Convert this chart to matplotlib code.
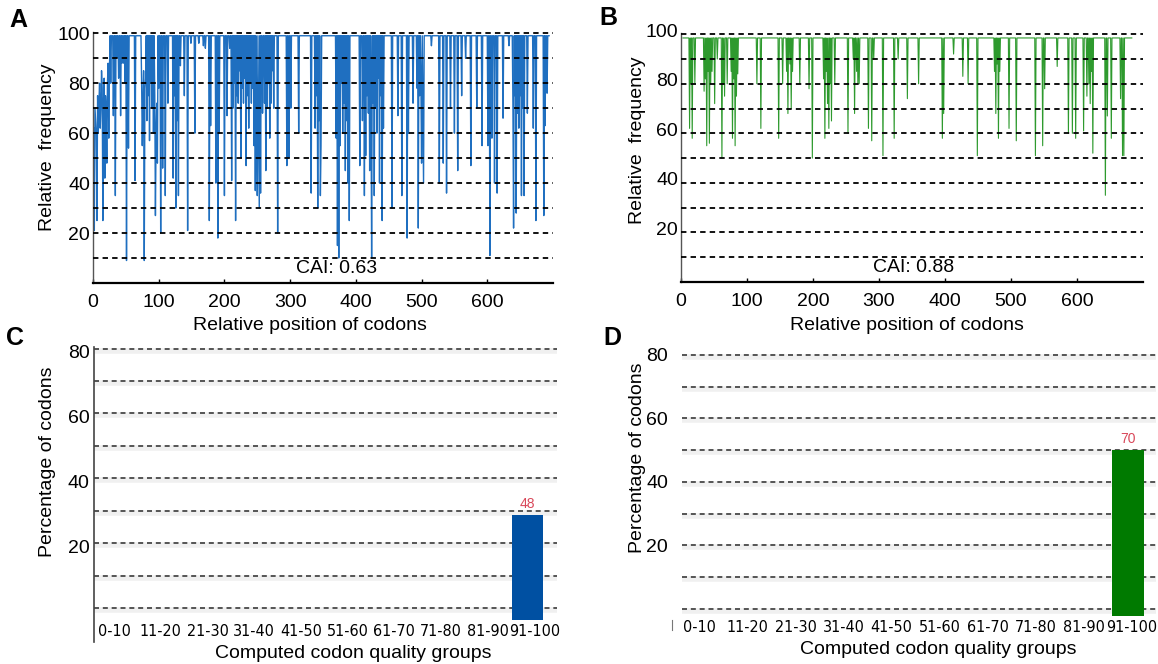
import numpy as np
import matplotlib.pyplot as plt
from matplotlib import font_manager
from matplotlib.transforms import ScaledTranslation

plt.rcParams['font.family'] = ['Liberation Sans', 'DejaVu Sans']

# the group labels use a narrow face in the original; pick what is installed
_names = {f.name for f in font_manager.fontManager.ttflist}
_condensed = [f for f in font_manager.fontManager.ttflist
              if f.name == 'DejaVu Sans' and 'Condensed' in f.fname and 'Bold' not in f.fname
              and 'Oblique' not in f.fname]
if 'Liberation Sans Narrow' in _names:
    GROUP_FONT = dict(family='Liberation Sans Narrow', size=13.5)
elif _condensed:
    GROUP_FONT = dict(family='DejaVu Sans', stretch='condensed', size=11.5)
else:
    GROUP_FONT = dict(family='Liberation Sans', size=9.5)

# ---- data ----
# panel A: relative frequency per codon, flat at 99 except the dips below
a_n_codons = 694
a_baseline = 99.0
a_dip_pos = [1, 2, 3, 4, 5, 6, 7, 8, 9, 10, 11, 12, 13, 14, 15, 16, 17, 18, 19, 20,
             21, 22, 23, 24, 25, 27, 31, 34, 36, 39, 42, 44, 47, 49, 51, 54, 64, 74, 75, 76,
             77, 78, 79, 80, 82, 84, 86, 88, 90, 92, 94, 95, 96, 97, 98, 100, 103, 106, 110, 114,
             122, 124, 126, 128, 130, 133, 139, 144, 149, 155, 161, 168, 171, 177, 179, 187, 190, 192, 200, 204,
             208, 211, 213, 215, 217, 219, 221, 223, 225, 227, 229, 231, 233, 235, 237, 239, 241, 243, 245, 247,
             249, 250, 252, 253, 255, 258, 261, 263, 265, 267, 269, 271, 273, 275, 281, 295, 298, 301, 313, 332,
             338, 340, 342, 344, 346, 347, 370, 372, 374, 376, 378, 380, 382, 384, 386, 388, 390, 406, 410, 413,
             415, 417, 419, 421, 423, 424, 426, 428, 430, 432, 434, 436, 438, 440, 442, 455, 464, 470, 478, 480,
             487, 493, 495, 497, 499, 500, 502, 503, 515, 527, 533, 538, 544, 550, 555, 561, 567, 575, 584, 592,
             601, 604, 607, 611, 615, 624, 633, 639, 640, 642, 644, 646, 648, 650, 652, 654, 656, 661, 670, 674,
             686, 688, 691]
a_dip_val = [62, 21, 70, 65, 60, 25, 75, 60, 72, 80, 62, 70, 85, 78, 25, 72, 82, 42, 75, 70,
             48, 80, 88, 58, 85, 80, 67, 35, 90, 82, 67, 88, 88, 80, 9, 54, 41, 80, 55, 72,
             85, 9, 78, 82, 65, 75, 57, 80, 70, 60, 75, 27, 60, 72, 48, 78, 20, 46, 35, 72,
             42, 75, 30, 65, 35, 87, 75, 21, 96, 60, 96, 95, 94, 25, 63, 40, 18, 60, 35, 67,
             94, 41, 70, 80, 25, 75, 72, 85, 50, 78, 72, 82, 47, 75, 62, 80, 72, 78, 55, 37,
             70, 35, 66, 30, 36, 68, 72, 45, 70, 80, 58, 72, 85, 70, 20, 47, 50, 70, 60, 36,
             62, 75, 30, 65, 35, 55, 58, 15, 10, 55, 80, 60, 72, 45, 65, 40, 25, 47, 65, 35,
             51, 75, 68, 45, 80, 10, 72, 35, 70, 60, 82, 40, 75, 25, 62, 30, 67, 35, 18, 60,
             72, 78, 22, 75, 80, 48, 70, 40, 95, 40, 48, 36, 70, 60, 45, 75, 90, 47, 70, 55,
             55, 11, 58, 40, 36, 66, 95, 72, 22, 75, 28, 68, 62, 75, 35, 70, 35, 68, 62, 25,
             27, 63, 76]

# panel B: optimised sequence
b_n_codons = 683
b_first_codon = 3
b_baseline = 98.5
b_dip_pos = [13, 15, 17, 21, 35, 37, 39, 41, 43, 45, 47, 51, 55, 62, 64, 66, 70, 76, 78, 80,
             82, 84, 86, 115, 121, 148, 154, 160, 162, 165, 167, 169, 180, 194, 199, 216, 218, 220, 222, 224,
             226, 228, 233, 253, 261, 263, 266, 268, 270, 284, 289, 292, 306, 323, 329, 343, 360, 396, 398, 413,
             427, 435, 449, 475, 477, 479, 481, 483, 497, 508, 537, 548, 551, 570, 587, 593, 598, 610, 615, 618,
             620, 622, 624, 643, 646, 652, 666, 669, 671]
b_dip_val = [62, 80, 58, 80, 77, 82, 55, 85, 56, 80, 85, 72, 90, 50, 80, 75, 80, 85, 58, 82,
             55, 75, 84, 80, 62, 58, 80, 85, 68, 88, 70, 85, 80, 78, 50, 82, 58, 85, 72, 62,
             80, 65, 80, 60, 90, 68, 85, 80, 80, 62, 57, 90, 51, 58, 90, 74, 80, 58, 68, 92,
             83, 80, 51, 85, 68, 88, 58, 85, 62, 57, 51, 55, 78, 87, 60, 60, 58, 61, 75, 80,
             72, 85, 52, 35, 67, 58, 74, 51, 51]

a_cai = 'CAI: 0.63'
b_cai = 'CAI: 0.88'

groups = ['0-10', '11-20', '21-30', '31-40', '41-50', '51-60', '61-70', '71-80', '81-90', '91-100']
c_pct = [0, 0, 0, 0, 0, 0, 0, 0, 0, 28.7]
c_labels = ['', '', '', '', '', '', '', '', '', '48']
d_pct = [0, 0, 0, 0, 0, 0, 0, 0, 0, 50.0]
d_labels = ['', '', '', '', '', '', '', '', '', '70']

W, H = 1158, 664
fig = plt.figure(figsize=(W / 100, H / 100), dpi=100)


def px_axes(left, top, right, bottom):
    return fig.add_axes([left / W, 1 - bottom / H, (right - left) / W, (bottom - top) / H])


def fig_text(x, y, s, **kw):
    fig.text(x / W, 1 - y / H, s, **kw)


def shift(dx, dy):
    # offset in pixels (figure is 100 dpi)
    return ScaledTranslation(dx / 100, dy / 100, fig.dpi_scale_trans)


def build_series(first, last, base, dip_pos, dip_val):
    pos = np.arange(first, last + 1)
    freq = np.full(len(pos), base)
    freq[np.array(dip_pos) - first] = dip_val
    return pos, freq


def codon_panel(ax, pos, freq, color, lw, cai, cai_x, ylab_shift):
    ax.plot(pos, freq, color=color, lw=lw, zorder=2)
    for g in range(10, 101, 10):
        ax.axhline(g, color='black', lw=1.3, ls=(0, (3, 2.3)), zorder=3)
    ax.set_xlim(0, 700)
    ax.set_ylim(0, 100.5)
    ax.spines[['top', 'right']].set_visible(False)
    ax.spines['left'].set_color('#555555')
    ax.spines['left'].set_linewidth(1.0)
    ax.spines['bottom'].set_linewidth(1.6)
    ax.set_xticks(range(0, 601, 100))
    ax.set_yticks([20, 40, 60, 80, 100])
    ax.tick_params(axis='x', direction='in', length=3, width=1, labelsize=14, pad=8)
    ax.tick_params(axis='y', length=0, labelsize=14, pad=2)
    for lbl in ax.get_yticklabels():
        lbl.set_transform(lbl.get_transform() + shift(0, ylab_shift))
    ax.text(cai_x, 6, cai, ha='center', va='center', fontsize=14)


def quality_panel(ax, pct, labels, color, floor, top, xmin, xmax, lab_shift, grid_shift):
    x = np.arange(len(groups))
    pct = np.array(pct)
    keep = pct > 0
    ax.bar(x[keep], pct[keep] - floor, bottom=floor, width=0.67, color=color, zorder=3)
    for xi, h, s in zip(x, pct, labels):
        if s:
            ax.text(xi, h + 1.2, s, ha='center', va='bottom', fontsize=10,
                    color='#d9485a', zorder=4)
    for g in range(0, 81, 10):
        ax.axhline(g - 0.6, color='#f0f0f0', lw=4, zorder=1)
        ax.axhline(g, color='#3a3a3a', lw=1.2, ls=(0, (3, 2.3)), zorder=2)
    ax.set_xlim(xmin, xmax)
    ax.set_ylim(floor, top)
    ax.set_xticks(x, groups)
    ax.set_yticks([20, 40, 60, 80])
    ax.tick_params(axis='x', length=0, pad=3)
    ax.tick_params(axis='y', length=0, labelsize=14, pad=3)
    for lbl in ax.get_xticklabels():
        lbl.set_fontfamily(GROUP_FONT['family'])
        lbl.set_fontsize(GROUP_FONT['size'])
        if 'stretch' in GROUP_FONT:
            lbl.set_fontstretch(GROUP_FONT['stretch'])
        lbl.set_transform(lbl.get_transform() + shift(lab_shift, 0))
    for lbl in ax.get_yticklabels():
        lbl.set_transform(lbl.get_transform() + shift(0, grid_shift))
    ax.spines[['top', 'right', 'bottom']].set_visible(False)


# A
ax_a = px_axes(93, 32, 553, 283)
a_pos, a_freq = build_series(1, a_n_codons, a_baseline, a_dip_pos, a_dip_val)
codon_panel(ax_a, a_pos, a_freq, '#1f6fc0', 1.0, a_cai, 370, 0)

# B
ax_b = px_axes(681, 33, 1143, 282)
b_pos, b_freq = build_series(b_first_codon, b_n_codons, b_baseline, b_dip_pos, b_dip_val)
codon_panel(ax_b, b_pos, b_freq, '#2e9a2e', 0.8, b_cai, 352, 4)

# C
ax_c = px_axes(94, 347, 557, 620)
quality_panel(ax_c, c_pct, c_labels, '#0050a2', -3.7, 80.5, -0.28, 9.63, 7, -3)
ax_c.spines['left'].set_color('#444444')
ax_c.spines['left'].set_linewidth(1.2)
ax_c.spines['left'].set_bounds(-10.5, 80.5)

# D
ax_d = px_axes(682, 354, 1156, 616)
quality_panel(ax_d, d_pct, d_labels, '#007a00', -2.2, 80.3, -0.28, 9.59, 4, 3)
ax_d.spines['left'].set_position(('outward', 7))
ax_d.spines['left'].set_color('#777777')
ax_d.spines['left'].set_bounds(-6.5, -3.5)

# axis titles
fig_text(310, 325, 'Relative position of codons', ha='center', va='center', fontsize=14)
fig_text(907, 325, 'Relative position of codons', ha='center', va='center', fontsize=14)
fig_text(353, 653, 'Computed codon quality groups', ha='center', va='center', fontsize=14)
fig_text(938, 650, 'Computed codon quality groups', ha='center', va='center', fontsize=14)
fig_text(48, 147, 'Relative  frequency', ha='center', va='center', rotation=90, fontsize=14)
fig_text(638, 140, 'Relative  frequency', ha='center', va='center', rotation=90, fontsize=14)
fig_text(48, 462, 'Percentage of codons', ha='center', va='center', rotation=90, fontsize=14)
fig_text(638, 458, 'Percentage of codons', ha='center', va='center', rotation=90, fontsize=14)

# panel letters
for letter, x, y in [('A', 18, 20), ('B', 608, 18), ('C', 15, 338), ('D', 612, 338)]:
    fig_text(x, y, letter, ha='center', va='center', fontsize=18, fontweight='bold')

fig.savefig('out.png', dpi=100)
